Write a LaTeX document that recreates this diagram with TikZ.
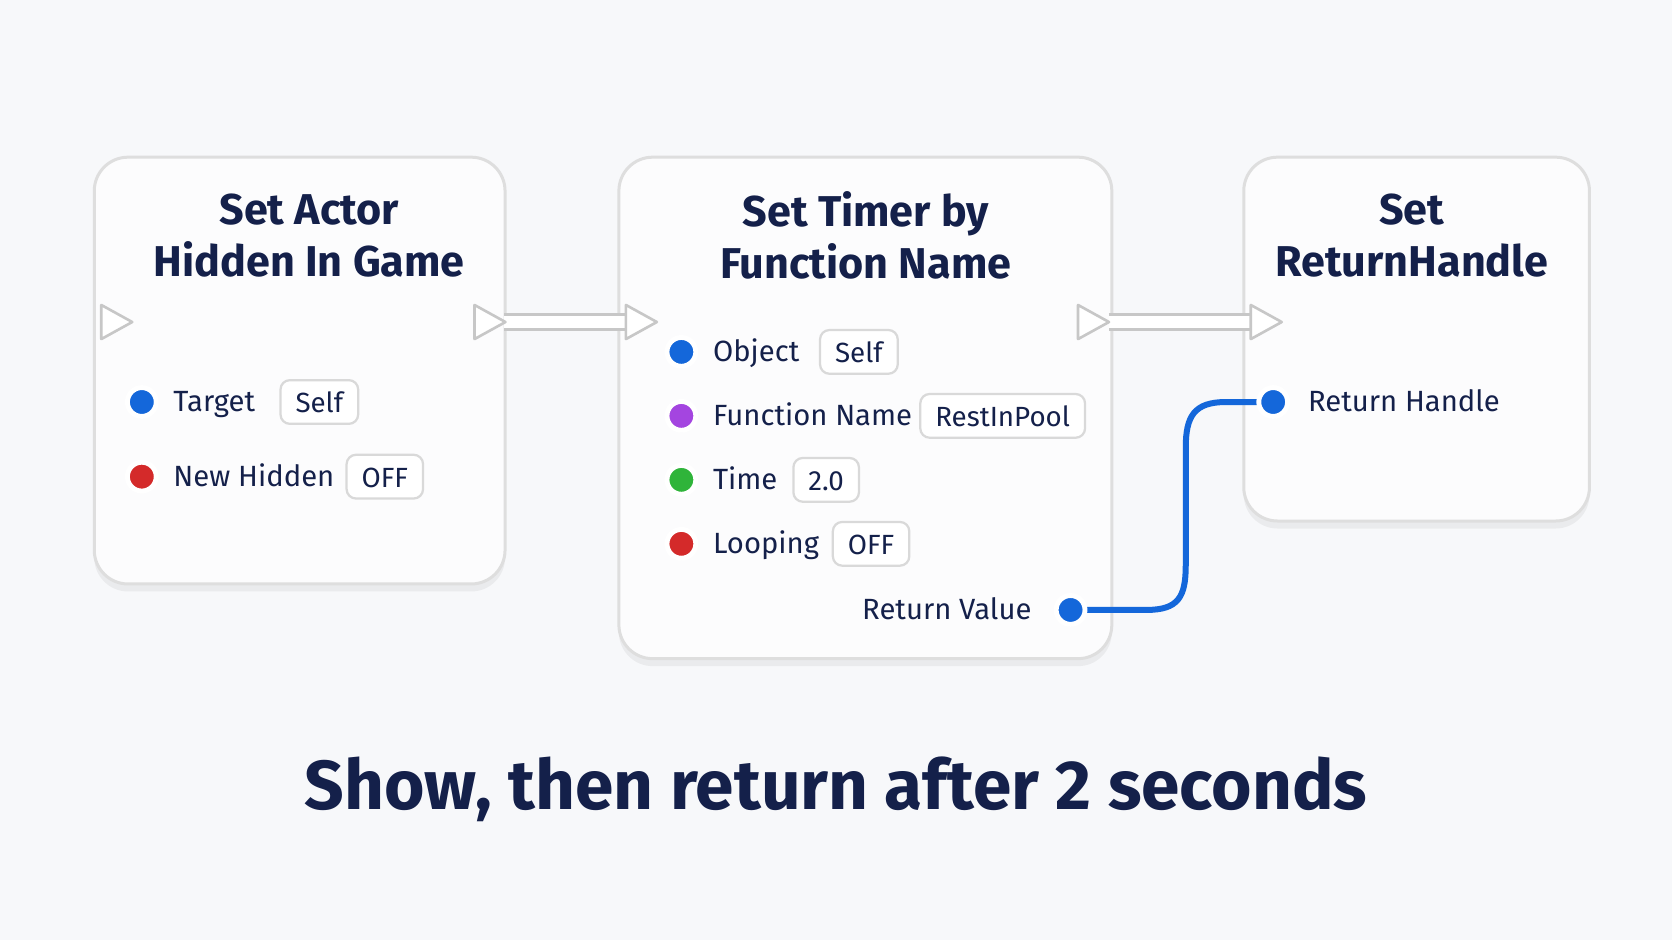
\documentclass[tikz,border=0pt]{standalone}
\usepackage{fontspec}
\setmainfont{Fira Sans}
\usetikzlibrary{shadows,calc}
\definecolor{navy}{HTML}{14204A}
\definecolor{pblue}{HTML}{1467DA}
\definecolor{ppurple}{HTML}{A445E0}
\definecolor{pgreen}{HTML}{2FB43A}
\definecolor{pred}{HTML}{D42A2A}
\definecolor{bg}{HTML}{F7F8FA}
\begin{document}
\begin{tikzpicture}[x=0.01cm,y=-0.01cm,
  card/.style={draw=black!13,line width=0.8pt,fill=white!60!bg,rounded corners=9pt,
     drop shadow={shadow xshift=0pt,shadow yshift=-2pt,opacity=0.10}},
  title/.style={font=\fontsize{11.5}{13.8}\selectfont\bfseries,text=navy,align=center},
  lab/.style={font=\fontsize{7.8}{9}\selectfont,text=navy,anchor=mid west,inner sep=0},
  val/.style={draw=black!15,line width=0.6pt,fill=white,rounded corners=2.5pt,anchor=west,
     font=\fontsize{7.4}{9}\selectfont,text=navy,minimum height=0.41cm,inner xsep=4pt,inner ysep=0pt,
     text height=1.5ex,text depth=0.45ex},
  pin/.style={circle,draw=white,line width=1.3pt,minimum size=0.27cm,inner sep=0,fill=#1,
     drop shadow={shadow xshift=0pt,shadow yshift=-0.5pt,opacity=0.2}},
  exec/.style={draw=black!22,fill=white,line width=0.7pt,line join=round},
  wire/.style={line width=1.6pt,draw=pblue}]
\fill[bg] (0,0) rectangle (1568,882);
\useasboundingbox (0,0) rectangle (1568,882);
% cards
\node[card,minimum width=3.85cm,minimum height=4.0cm,anchor=north west] (A) at (87,146) {};
\node[card,minimum width=4.62cm,minimum height=4.7cm,anchor=north west] (B) at (579,146) {};
\node[card,minimum width=3.24cm,minimum height=3.41cm,anchor=north west] (C) at (1165,146) {};
\node[title] (At) at (290,221) {Set Actor\\Hidden In Game};
\node[title] (Bt) at (812,221) {Set Timer by\\Function Name};
\node[title] (Ct) at (1324,221) {Set\\ReturnHandle};
% exec connectors
\coordinate (Ao) at (473,302); \coordinate (Bi) at (587,302);
\coordinate (Bo) at (1040,302); \coordinate (Ci) at (1173,302);
\foreach \a/\b in {Ao/Bi,Bo/Ci}{
  \draw[black!22,line width=5pt] (\a) -- (\b);
  \draw[white,line width=3.4pt] (\a) -- (\b);}
\foreach \x in {95,445,587,1011,1173}{
  \draw[exec] (\x,286) -- (\x+29,302) -- (\x,318) -- cycle;}
% A pins
\node[pin=pblue] (a1) at (133,377) {};
\node[lab] (a1l) at (162,377) {Target};
\node[val] (a1v) at (262,377) {Self};
\node[pin=pred] (a2) at (133,447) {};
\node[lab] (a2l) at (162,447) {New Hidden};
\node[val] (a2v) at (324,447) {OFF};
% B pins
\node[pin=pblue] (b1) at (639,330) {};
\node[lab] (b1l) at (668,330) {Object};
\node[val] (b1v) at (768,330) {Self};
\node[pin=ppurple] (b2) at (639,390) {};
\node[lab] (b2l) at (668,390) {Function Name};
\node[val] (b2v) at (862,390) {RestInPool};
\node[pin=pgreen] (b3) at (639,450) {};
\node[lab] (b3l) at (668,450) {Time};
\node[val] (b3v) at (743,450) {2.0};
\node[pin=pred] (b4) at (639,510) {};
\node[lab] (b4l) at (668,510) {Looping};
\node[val] (b4v) at (780,510) {OFF};
\node[lab,anchor=mid east] (b5l) at (968,572) {Return Value};
\node[pin=pblue] (b5) at (1004,572) {};
% C pin
\node[pin=pblue] (c1) at (1194,377) {};
\node[lab] (c1l) at (1226,377) {Return Handle};
% wire
\draw[wire] (b5.center) -- (1075,572) .. controls (1105,572) and (1112,560) .. (1112,530)
  -- (1112,420) .. controls (1112,390) and (1120,377) .. (1150,377) -- (c1.center);
\node[pin=pblue] at (b5) {};
\node[pin=pblue] at (c1) {};
% caption
\node[font=\fontsize{18.5}{22}\selectfont\bfseries,text=navy] (cap) at (784,740) {Show, then return after 2 seconds};
\end{tikzpicture}
\end{document}
